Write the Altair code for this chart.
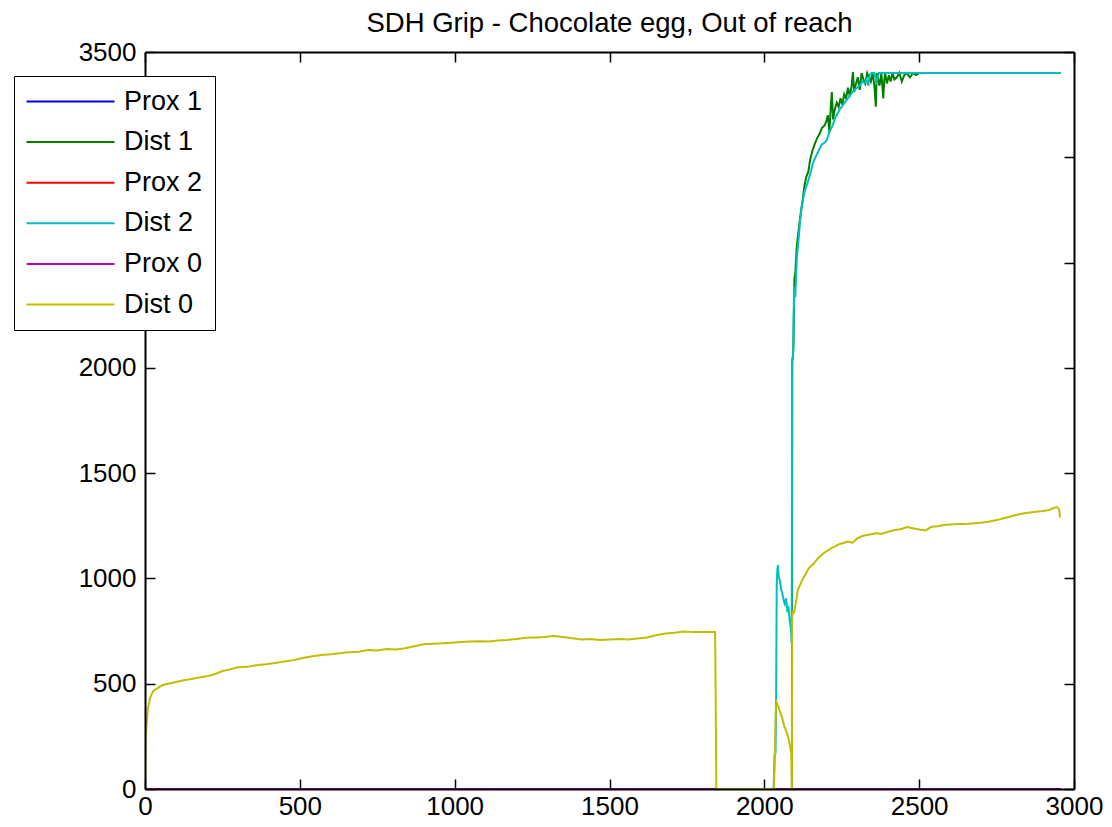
import altair as alt
import pandas as pd

# ---------------- data ----------------
series_names = ["Prox 1", "Dist 1", "Prox 2", "Dist 2", "Prox 0", "Dist 0"]
series_colors = ["#0000FF", "#008000", "#FF0000", "#00BFBF", "#BF00BF", "#BFBF00"]

prox_x = [0, 2958]
prox_y = [0, 0]

dist1_x = [0, 2089, 2090, 2092, 2094, 2097, 2100, 2104, 2108, 2113,
           2118, 2124, 2130, 2136, 2142, 2148, 2155, 2162, 2170, 2178,
           2186, 2194, 2200, 2205, 2210, 2215, 2218, 2222, 2228, 2234,
           2240, 2246, 2252, 2258, 2264, 2270, 2276, 2282, 2286, 2290,
           2296, 2302, 2308, 2314, 2320, 2326, 2332, 2338, 2344, 2350,
           2356, 2360, 2363, 2366, 2372, 2378, 2384, 2387, 2390, 2396,
           2402, 2408, 2414, 2420, 2428, 2436, 2444, 2452, 2460, 2470,
           2480, 2490, 2500, 2510, 2958]
dist1_y = [0, 0, 2030, 2050, 2100, 2420, 2450, 2560, 2620, 2680,
           2740, 2800, 2870, 2910, 2930, 2990, 3030, 3060, 3090, 3110,
           3140, 3150, 3170, 3200, 3120, 3250, 3310, 3180, 3230, 3260,
           3240, 3280, 3250, 3300, 3280, 3330, 3290, 3340, 3405, 3310,
           3350, 3380, 3320, 3400, 3370, 3350, 3400, 3380, 3360, 3400,
           3330, 3240, 3400, 3380, 3340, 3400, 3280, 3360, 3400, 3350,
           3390, 3360, 3400, 3370, 3380, 3400, 3360, 3390, 3400, 3380,
           3400, 3390, 3400, 3400, 3400]

dist2_x = [0, 2030, 2033, 2036, 2038, 2040, 2042, 2044, 2046, 2050,
           2054, 2058, 2062, 2066, 2070, 2074, 2078, 2082, 2086, 2088,
           2089, 2090, 2093, 2096, 2100, 2105, 2110, 2115, 2120, 2125,
           2131, 2140, 2150, 2157, 2165, 2175, 2185, 2195, 2202, 2210,
           2220, 2230, 2237, 2245, 2255, 2265, 2275, 2282, 2290, 2300,
           2310, 2318, 2324, 2330, 2336, 2340, 2346, 2355, 2362, 2370,
           2958]
dist2_y = [0, 0, 160, 170, 410, 968, 1040, 1063, 1010, 990,
           950, 930, 900, 880, 905, 850, 860, 802, 760, 693,
           1100, 2037, 2060, 2384, 2336, 2526, 2600, 2690, 2760, 2800,
           2844, 2880, 2930, 2972, 3000, 3030, 3060, 3070, 3082, 3120,
           3150, 3190, 3210, 3230, 3250, 3270, 3290, 3305, 3320, 3330,
           3345, 3360, 3352, 3370, 3340, 3390, 3400, 3400, 3360, 3400,
           3400]

dist0_x = [0, 2, 4, 6, 9, 12, 16, 20, 25, 30,
           40, 50, 60, 75, 90, 110, 130, 150, 175, 200,
           225, 250, 275, 300, 330, 360, 390, 420, 450, 480,
           510, 540, 570, 600, 630, 660, 690, 720, 750, 780,
           810, 840, 870, 900, 930, 960, 990, 1020, 1050, 1080,
           1110, 1140, 1170, 1200, 1230, 1260, 1290, 1320, 1350, 1380,
           1410, 1440, 1470, 1500, 1530, 1560, 1590, 1620, 1650, 1680,
           1710, 1740, 1770, 1800, 1830, 1841, 1842, 1845, 2031, 2034,
           2037, 2040, 2044, 2048, 2052, 2056, 2060, 2064, 2068, 2072,
           2076, 2080, 2083, 2085, 2087, 2089, 2090, 2093, 2096, 2100,
           2104, 2108, 2114, 2120, 2127, 2135, 2142, 2150, 2160, 2170,
           2180, 2190, 2200, 2212, 2225, 2240, 2255, 2270, 2285, 2300,
           2315, 2330, 2345, 2360, 2380, 2400, 2420, 2440, 2460, 2480,
           2500, 2520, 2540, 2560, 2580, 2600, 2630, 2660, 2690, 2720,
           2750, 2780, 2810, 2840, 2870, 2900, 2920, 2935, 2945, 2952,
           2955]
dist0_y = [0, 250, 290, 320, 380, 400, 430, 445, 460, 470,
           478, 488, 495, 500, 505, 512, 518, 522, 530, 535,
           545, 560, 568, 578, 580, 588, 592, 598, 605, 612,
           622, 630, 636, 640, 645, 650, 652, 660, 658, 665,
           662, 668, 678, 688, 690, 692, 695, 698, 700, 702,
           700, 705, 708, 712, 718, 720, 722, 726, 722, 716,
           710, 712, 708, 710, 712, 710, 715, 720, 730, 738,
           742, 748, 745, 745, 745, 745, 600, 0, 0, 160,
           380, 410, 395, 380, 360, 345, 325, 300, 285, 270,
           250, 225, 200, 185, 170, 0, 817, 850, 835, 870,
           905, 945, 965, 985, 1005, 1025, 1045, 1058, 1072, 1090,
           1105, 1118, 1128, 1140, 1150, 1162, 1168, 1175, 1170, 1190,
           1200, 1206, 1210, 1215, 1212, 1222, 1230, 1234, 1244, 1238,
           1232, 1228, 1245, 1248, 1254, 1256, 1258, 1260, 1263, 1268,
           1277, 1288, 1300, 1310, 1315, 1320, 1325, 1335, 1339, 1328,
           1290]

x_ticks = [0, 500, 1000, 1500, 2000, 2500, 3000]
y_ticks = [0, 500, 1000, 1500, 2000, 2500, 3000, 3500]
title_text = "SDH Grip - Chocolate egg, Out of reach"

# ---------------- table ----------------
series_xy = {
    "Prox 1": (prox_x, prox_y),
    "Dist 1": (dist1_x, dist1_y),
    "Prox 2": (prox_x, prox_y),
    "Dist 2": (dist2_x, dist2_y),
    "Prox 0": (prox_x, prox_y),
    "Dist 0": (dist0_x, dist0_y),
}
rows = []
for name in series_names:
    xs, ys = series_xy[name]
    for i, (a, b) in enumerate(zip(xs, ys)):
        rows.append({"series": name, "x": a, "y": b, "i": i})
df = pd.DataFrame(rows)

FONT = "Liberation Sans"
FS = 26

xscale = alt.Scale(domain=[0, 3000], nice=False, zero=False)
yscale = alt.Scale(domain=[0, 3500], nice=False)

base = alt.Chart(df)

lines = base.mark_line(strokeWidth=2, clip=True).encode(
    x=alt.X("x:Q", scale=xscale, title=None,
            axis=alt.Axis(orient="bottom", values=x_ticks, offset=-10, tickSize=10,
                          domain=False, grid=False, labelPadding=25,
                          labelBaseline="alphabetic", labelFlush=False,
                          labelOverlap=False, labelFontSize=FS, labelFont=FONT,
                          labelColor="black", tickColor="black", tickWidth=1.5, format="d")),
    y=alt.Y("y:Q", scale=yscale, title=None,
            axis=alt.Axis(orient="left", values=y_ticks, offset=-10, tickSize=10,
                          domain=False, grid=False, labelPadding=9, labelFlush=False,
                          labelOverlap=False, labelFontSize=FS, labelFont=FONT,
                          labelColor="black", tickColor="black", tickWidth=1.5, format="d")),
    color=alt.Color("series:N",
                    scale=alt.Scale(domain=series_names, range=series_colors),
                    legend=alt.Legend(orient="none", legendX=-131, legendY=24, title=None,
                                      strokeColor="black", fillColor="white", padding=12,
                                      labelFontSize=27, labelFont=FONT, labelColor="black",
                                      symbolType="M-4,0L4,0", symbolSize=484,
                                      symbolStrokeWidth=2, symbolOffset=31, labelOffset=40,
                                      rowPadding=12.6, zindex=3)),
    order=alt.Order("i:Q"),
)

ticks_opposite = base.mark_point(opacity=0).encode(
    x=alt.X("x:Q", scale=xscale, title=None,
            axis=alt.Axis(orient="top", values=x_ticks, offset=-10, tickSize=10,
                          domain=False, grid=False, labels=False,
                          tickColor="black", tickWidth=1.5)),
    y=alt.Y("y:Q", scale=yscale, title=None,
            axis=alt.Axis(orient="right", values=y_ticks, offset=-10, tickSize=10,
                          domain=False, grid=False, labels=False,
                          tickColor="black", tickWidth=1.5)),
)

box_bl = base.mark_point(opacity=0).encode(
    x=alt.X("x:Q", scale=xscale, title=None,
            axis=alt.Axis(orient="bottom", domain=True, ticks=False, labels=False, grid=False,
                          domainColor="black", domainWidth=2, zindex=1)),
    y=alt.Y("y:Q", scale=yscale, title=None,
            axis=alt.Axis(orient="left", domain=True, ticks=False, labels=False, grid=False,
                          domainColor="black", domainWidth=2, zindex=1)),
)

box_tr = base.mark_point(opacity=0).encode(
    x=alt.X("x:Q", scale=xscale, title=None,
            axis=alt.Axis(orient="top", domain=True, ticks=False, labels=False, grid=False,
                          domainColor="black", domainWidth=2, zindex=1)),
    y=alt.Y("y:Q", scale=yscale, title=None,
            axis=alt.Axis(orient="right", domain=True, ticks=False, labels=False, grid=False,
                          domainColor="black", domainWidth=2, zindex=1)),
)

chart = alt.layer(lines, ticks_opposite, box_bl, box_tr).resolve_axis(
    x="independent", y="independent"
).properties(
    width=929,
    height=737,
    title=alt.TitleParams(title_text, fontSize=27.5, font=FONT, fontWeight="normal",
                          color="black", anchor="middle", frame="group",
                          baseline="alphabetic", offset=-20),
    padding={"left": 137, "top": 44, "right": 30, "bottom": 30},
    autosize=alt.AutoSizeParams(type="none"),
).configure_view(stroke=None).configure(background="white")

chart.save("out.html", embed_options={"renderer": "svg", "actions": False})
